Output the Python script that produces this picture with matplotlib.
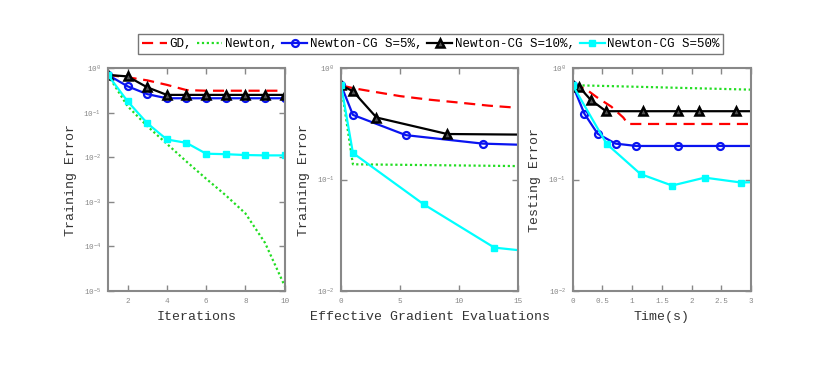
import numpy as np
import matplotlib
matplotlib.use('Agg')
import matplotlib.pyplot as plt
from matplotlib.ticker import LogLocator, NullLocator

plt.rcParams['font.family'] = ['Liberation Mono', 'DejaVu Sans Mono']
plt.rcParams['mathtext.fontset'] = 'dejavusans'

# ---- panel (a): training error vs iterations
it = [1, 2, 3, 4, 5, 6, 7, 8, 9, 10]
a_gd = [0.70, 0.62, 0.53, 0.42, 0.32, 0.31, 0.31, 0.31, 0.31, 0.31]
a_newton = [0.70, 0.14, 0.05, 0.02, 0.008, 0.0033, 0.0014, 0.00055,
            0.00012, 1.3e-5]
a_cg5 = [0.70, 0.39, 0.26, 0.21, 0.21, 0.21, 0.21, 0.21, 0.21, 0.21]
a_cg10 = [0.70, 0.65, 0.37, 0.25, 0.25, 0.25, 0.25, 0.25, 0.25, 0.25]
a_cg50 = [0.70, 0.18, 0.058, 0.025, 0.021, 0.012, 0.0117, 0.0112, 0.011,
          0.011]

# ---- panel (b): training error vs effective gradient evaluations
b_gd_x = [0, 1, 2.5, 5, 7.5, 10, 12.5, 15]
b_gd_y = [0.70, 0.66, 0.62, 0.56, 0.52, 0.49, 0.46, 0.44]
b_nt_x = [0, 0.9, 1.0, 15]
b_nt_y = [0.70, 0.16, 0.137, 0.132]
b_cg5_x = [0, 1, 5.5, 12, 18.5]
b_cg5_y = [0.70, 0.38, 0.25, 0.21, 0.20]
b_cg10_x = [0, 1, 3, 9, 21]
b_cg10_y = [0.70, 0.62, 0.36, 0.256, 0.25]
b_cg50_x = [0, 1, 7, 13, 19]
b_cg50_y = [0.70, 0.173, 0.060, 0.0245, 0.021]

# ---- panel (c): testing error vs time
c_gd_x = [0, 0.2, 0.4, 0.65, 0.85, 0.93, 3]
c_gd_y = [0.70, 0.66, 0.55, 0.45, 0.36, 0.315, 0.315]
c_nt_x = [0, 0.1, 3]
c_nt_y = [0.70, 0.70, 0.64]
c_cg5_x = [0, 0.196, 0.42, 0.72, 1.07, 1.77, 2.48, 3.2]
c_cg5_y = [0.70, 0.39, 0.257, 0.21, 0.20, 0.20, 0.20, 0.20]
c_cg10_x = [0, 0.11, 0.30, 0.56, 1.18, 1.77, 2.13, 2.75, 3.4]
c_cg10_y = [0.70, 0.675, 0.52, 0.41, 0.41, 0.41, 0.41, 0.41, 0.41]
c_cg50_x = [0, 0.57, 1.14, 1.67, 2.22, 2.83, 3.4]
c_cg50_y = [0.70, 0.209, 0.112, 0.0883, 0.104, 0.094, 0.096]

GRAY = '#888888'
lw = 1.6

fig = plt.figure(figsize=(8.3, 3.71), dpi=100)
ax1 = fig.add_axes([0.130, 0.2156, 0.213, 0.601])
ax2 = fig.add_axes([0.411, 0.2156, 0.213, 0.601])
ax3 = fig.add_axes([0.690, 0.2156, 0.215, 0.601])


def series(ax, gd, nt, c5, c10, c50):
    h = []
    h += ax.plot(*gd, color='red', ls=(0, (5, 3)), lw=lw, label='GD,')
    h += ax.plot(*nt, color='#22dd22', ls=(0, (1, 1.2)), lw=lw,
                 label='Newton,')
    h += ax.plot(*c5, color='#0a14f0', lw=lw, marker='o', ms=5, mfc='none',
                 mew=1.6, label='Newton-CG S=5%,')
    h += ax.plot(*c10, color='black', lw=lw, marker='^', ms=5.5,
                 mfc='#555555', mew=1.8, label='Newton-CG S=10%,')
    h += ax.plot(*c50, color='cyan', lw=lw, marker='s', ms=4.5,
                 label='Newton-CG S=50%')
    return h


hs = series(ax1, (it, a_gd), (it, a_newton), (it, a_cg5), (it, a_cg10),
            (it, a_cg50))
series(ax2, (b_gd_x, b_gd_y), (b_nt_x, b_nt_y), (b_cg5_x, b_cg5_y),
       (b_cg10_x, b_cg10_y), (b_cg50_x, b_cg50_y))
series(ax3, (c_gd_x, c_gd_y), (c_nt_x, c_nt_y), (c_cg5_x, c_cg5_y),
       (c_cg10_x, c_cg10_y), (c_cg50_x, c_cg50_y))

ax1.set_xlim(1, 10)
ax1.set_ylim(1e-5, 1)
ax1.set_xticks([2, 4, 6, 8, 10])
ax2.set_xlim(0, 15)
ax2.set_ylim(1e-2, 1)
ax2.set_xticks([0, 5, 10, 15])
ax3.set_xlim(0, 3)
ax3.set_ylim(1e-2, 1)
ax3.set_xticks([0, 0.5, 1, 1.5, 2, 2.5, 3])
ax3.set_xticklabels(['0', '0.5', '1', '1.5', '2', '2.5', '3'])

for ax, xl, yl in ((ax1, 'Iterations', 'Training Error'),
                   (ax2, 'Effective Gradient Evaluations', 'Training Error'),
                   (ax3, 'Time(s)', 'Testing Error')):
    ax.set_yscale('log')
    ax.yaxis.set_major_locator(LogLocator(base=10, numticks=10))
    ax.yaxis.set_minor_locator(NullLocator())
    ax.set_xlabel(xl, fontsize=9.5, color='#333333', labelpad=4)
    ax.set_ylabel(yl, fontsize=9.5, color='#333333', labelpad=5)
    ax.tick_params(direction='in', length=4, width=1, colors=GRAY,
                   labelsize=5.5, top=True, right=True, pad=5)
    for sp in ax.spines.values():
        sp.set_color(GRAY)
        sp.set_linewidth(1.5)

fig.legend(handles=hs, loc='center', bbox_to_anchor=(0.519, 0.881),
           ncol=5, fontsize=9, frameon=True, fancybox=False,
           edgecolor='#555555', handlelength=2.0, handletextpad=0.2,
           columnspacing=0.4, borderpad=0.3, borderaxespad=0)

fig.savefig('out.png', dpi=100)
